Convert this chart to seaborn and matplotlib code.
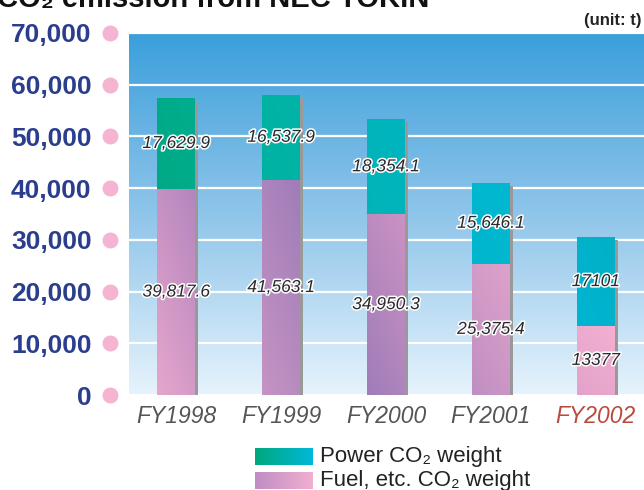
import numpy as np
import pandas as pd
import matplotlib
matplotlib.use('Agg')
import matplotlib.pyplot as plt
import matplotlib.patheffects as pe
from matplotlib.colors import LinearSegmentedColormap, to_rgb
import matplotlib.transforms as mtrans
import seaborn as sns

# data
years = ['FY1998', 'FY1999', 'FY2000', 'FY2001', 'FY2002']
fuel_co2 = [39817.6, 41563.1, 34950.3, 25375.4, 13377]
power_co2 = [17629.9, 16537.9, 18354.1, 15646.1, 17101]
y_ticks = [0, 10000, 20000, 30000, 40000, 50000, 60000, 70000]
legend_labels = ['Power CO₂ weight', 'Fuel, etc. CO₂ weight']

df = pd.DataFrame({'Year': years, 'Fuel': fuel_co2, 'Power': power_co2})
df['Total'] = df['Fuel'] + df['Power']

# gradient colours per segment (bottom-left, top-right)
fuel_grad = [('#e6a6cc', '#b486be'), ('#c693c3', '#9f7db9'), ('#9f7db9', '#cb92c3'),
             ('#c08fc2', '#dea2ca'), ('#e3a2ca', '#f3b0d2')]
power_grad = [('#00a77e', '#00ad8e'), ('#00b097', '#00b4a8'), ('#00b3b0', '#00b5c0'),
              ('#00b5c8', '#00b8d2'), ('#00b6d6', '#00b0c6')]
legend_grad = [('#00a87e', '#00b8d8'), ('#c08ec4', '#f0aed0')]

sns.set_style('white')
plt.rcParams['font.family'] = ['Liberation Sans', 'DejaVu Sans']

fig = plt.figure(figsize=(6.44, 4.90), dpi=100)
ax = fig.add_axes([129 / 644, 1 - 395 / 490, 515 / 644, 362 / 490])

# background gradient
bg = LinearSegmentedColormap.from_list('bg', ['#e6f3fc', '#8fc5ea', '#3a9fdb'])
ax.imshow(np.linspace(0, 1, 256).reshape(-1, 1), cmap=bg, origin='lower', aspect='auto',
          extent=[0, 1, 0, 1], transform=ax.transAxes, zorder=0)

# stacked bars: total first (power on top), fuel over it
sns.barplot(data=df, x='Year', y='Total', color='#00b4b4', width=0.36, ax=ax,
            saturation=1, zorder=2, linewidth=0)
n_tot = len(ax.patches)
sns.barplot(data=df, x='Year', y='Fuel', color='#c090c0', width=0.36, ax=ax,
            saturation=1, zorder=3, linewidth=0)

tot_bars = ax.patches[:n_tot]
fuel_bars = ax.patches[n_tot:]

for p in tot_bars:
    p.set_path_effects([pe.withSimplePatchShadow(offset=(2.4, -2.2), shadow_rgbFace='#999999', alpha=1), pe.Normal()])


def gradient_img(c1, c2, wx=0.35, wy=0.65):
    a, b = np.array(to_rgb(c1)), np.array(to_rgb(c2))
    gx, gy = np.meshgrid(np.linspace(0, 1, 32), np.linspace(0, 1, 64))
    t = (wx * gx + wy * gy)[..., None]
    return a * (1 - t) + b * t


def fill_gradient(patch, c1, c2, z):
    x0, y0 = patch.get_x(), patch.get_y()
    w, h = patch.get_width(), patch.get_height()
    im = ax.imshow(gradient_img(c1, c2), origin='lower', aspect='auto',
                   extent=[x0, x0 + w, y0, y0 + h], zorder=z, interpolation='bilinear')
    im.set_clip_path(patch)


for p, (c1, c2) in zip(tot_bars, power_grad):
    fill_gradient(p, c1, c2, 2.5)
for p, (c1, c2) in zip(fuel_bars, fuel_grad):
    fill_gradient(p, c1, c2, 3.5)


def fmt(v):
    return f'{int(v)}' if float(v).is_integer() else f'{v:,.1f}'


stroke = [pe.withStroke(linewidth=2.2, foreground='white')]
for i, row in df.iterrows():
    ax.text(i, row['Fuel'] / 2, fmt(row['Fuel']), ha='center', va='center', style='italic',
            fontsize=12.5, color='#2a2a2a', path_effects=stroke, zorder=6)
    ax.text(i, row['Fuel'] + row['Power'] / 2, fmt(row['Power']), ha='center', va='center',
            style='italic', fontsize=12.5, color='#2a2a2a', path_effects=stroke, zorder=6)

ax.set_xlim(-0.45, 4.46)
ax.set_ylim(0, 70000)
ax.set_yticks(y_ticks)
ax.set_yticklabels([f'{v:,}' for v in y_ticks])
ax.yaxis.grid(True, color='white', linewidth=1.6)
for gl in ax.get_ygridlines():
    gl.set_zorder(1)
ax.tick_params(axis='y', length=0, pad=27, labelsize=19, labelcolor='#2b3e8e')
for t in ax.get_yticklabels():
    t.set_fontweight('bold')
ax.tick_params(axis='x', length=0, pad=7, labelsize=16.5, labelcolor='#555555')
for t in ax.get_xticklabels():
    t.set_fontstyle('italic')
ax.get_xticklabels()[-1].set_color('#b94a3e')
ax.set_xlabel('')
ax.set_ylabel('')
for s in ax.spines.values():
    s.set_visible(False)

# pink dots beside tick labels
dot_tr = mtrans.blended_transform_factory(ax.transAxes, ax.transData)
ax.plot([-0.037] * len(y_ticks), y_ticks, 'o', color='#f5b5d2', markersize=10.5,
        transform=dot_tr, clip_on=False, zorder=6)

fig.text(-0.004, 1 - 7 / 490, 'CO₂ emission from NEC TOKIN', fontsize=21, fontweight='bold',
         color='#111111', va='baseline', ha='left')
fig.text(641 / 644, 1 - 20 / 490, '(unit: t)', fontsize=12, fontweight='bold',
         color='#222222', va='center', ha='right')

# legend with gradient swatches
for k, (lab, (c1, c2)) in enumerate(zip(legend_labels, legend_grad)):
    top = 448 + k * 24
    sw = fig.add_axes([255 / 644, 1 - (top + 17) / 490, 58 / 644, 17 / 490])
    sw.imshow(gradient_img(c1, c2, 1.0, 0.0), origin='lower', aspect='auto',
              extent=[0, 1, 0, 1], interpolation='bilinear')
    sw.set_axis_off()
    fig.text(320 / 644, 1 - (top + 8.5) / 490, lab, fontsize=16, color='#222222',
             va='center', ha='left')

fig.savefig('out.png', dpi=100)
